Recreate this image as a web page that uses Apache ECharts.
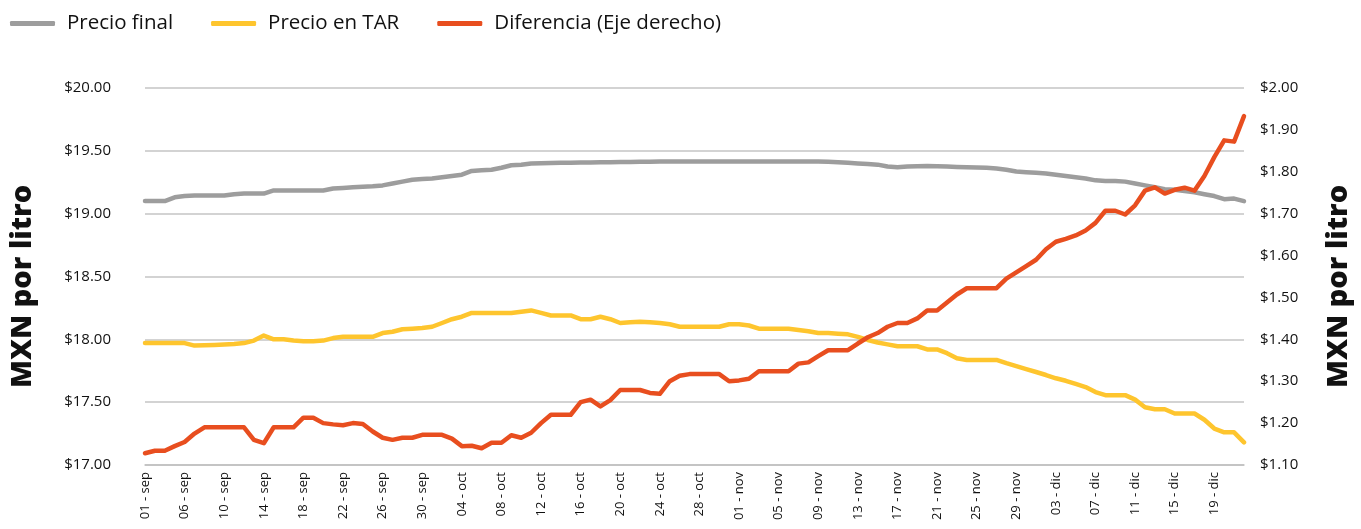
<!DOCTYPE html>
<html>
<head>
<meta charset="utf-8">
<script src="https://cdn.jsdelivr.net/npm/echarts@6/dist/echarts.min.js"></script>
<style>
html,body{margin:0;padding:0;background:#fff;}
#chart{width:1361px;height:529px;}
</style>
</head>
<body>
<div id="chart"></div>
<script>
const categories = [
"01 - sep","03 - sep","04 - sep","05 - sep","06 - sep","07 - sep","08 - sep","09 - sep","10 - sep","11 - sep","12 - sep","13 - sep","14 - sep","15 - sep","16 - sep","17 - sep","18 - sep","19 - sep","20 - sep","21 - sep","22 - sep","23 - sep","24 - sep","25 - sep","26 - sep","27 - sep","28 - sep","29 - sep","30 - sep",
"01 - oct","02 - oct","03 - oct","04 - oct","05 - oct","06 - oct","07 - oct","08 - oct","09 - oct","10 - oct","11 - oct","12 - oct","13 - oct","14 - oct","15 - oct","16 - oct","17 - oct","18 - oct","19 - oct","20 - oct","21 - oct","22 - oct","23 - oct","24 - oct","25 - oct","26 - oct","27 - oct","28 - oct","29 - oct","30 - oct","31 - oct",
"01 - nov","02 - nov","03 - nov","04 - nov","05 - nov","06 - nov","07 - nov","08 - nov","09 - nov","10 - nov","11 - nov","12 - nov","13 - nov","14 - nov","15 - nov","16 - nov","17 - nov","18 - nov","19 - nov","20 - nov","21 - nov","22 - nov","23 - nov","24 - nov","25 - nov","26 - nov","27 - nov","28 - nov","29 - nov","30 - nov",
"01 - dic","02 - dic","03 - dic","04 - dic","05 - dic","06 - dic","07 - dic","08 - dic","09 - dic","10 - dic","11 - dic","12 - dic","13 - dic","14 - dic","15 - dic","16 - dic","17 - dic","18 - dic","19 - dic","20 - dic","21 - dic","22 - dic"
];

const precioFinal = [
19.10,19.10,19.10,19.13,19.14,19.145,19.145,19.145,19.145,19.155,
19.16,19.16,19.16,19.185,19.185,19.185,19.185,19.185,19.185,19.20,
19.205,19.21,19.215,19.218,19.225,19.24,19.255,19.27,19.275,19.28,
19.29,19.30,19.31,19.34,19.345,19.35,19.365,19.385,19.39,19.40,
19.402,19.404,19.405,19.406,19.407,19.408,19.409,19.41,19.411,19.412,
19.413,19.414,19.415,19.415,19.415,19.415,19.415,19.415,19.415,19.415,
19.415,19.415,19.415,19.415,19.415,19.415,19.415,19.415,19.415,19.413,
19.41,19.405,19.40,19.395,19.39,19.375,19.37,19.375,19.378,19.38,
19.378,19.375,19.372,19.37,19.368,19.365,19.36,19.35,19.335,19.33,
19.325,19.32,19.31,19.30,19.29,19.28,19.265,19.26,19.26,19.255,
19.24,19.225,19.21,19.195,19.19,19.18,19.17,19.155,19.14,19.115,
19.12,19.10
];

const precioTAR = [
17.97,17.97,17.97,17.97,17.97,17.95,17.952,17.955,17.958,17.962,
17.97,17.99,18.03,18.00,18.00,17.99,17.985,17.985,17.99,18.01,
18.02,18.02,18.02,18.02,18.05,18.06,18.08,18.085,18.09,18.10,
18.13,18.16,18.18,18.21,18.21,18.21,18.21,18.21,18.22,18.23,
18.21,18.19,18.19,18.19,18.16,18.16,18.18,18.16,18.13,18.135,
18.14,18.135,18.13,18.12,18.10,18.10,18.10,18.10,18.10,18.12,
18.12,18.11,18.085,18.085,18.085,18.085,18.075,18.065,18.05,18.05,
18.045,18.04,18.02,17.995,17.975,17.96,17.945,17.945,17.945,17.92,
17.92,17.89,17.85,17.836,17.836,17.836,17.836,17.81,17.787,17.763,
17.74,17.716,17.69,17.67,17.645,17.62,17.58,17.556,17.556,17.556,
17.52,17.46,17.444,17.444,17.41,17.41,17.41,17.36,17.29,17.26,
17.26,17.18
];

const diferencia = [
1.128,1.134,1.134,1.145,1.155,1.175,1.19,1.19,1.19,1.19,
1.19,1.16,1.152,1.19,1.19,1.19,1.213,1.213,1.20,1.197,
1.195,1.20,1.198,1.18,1.165,1.16,1.165,1.165,1.172,1.172,
1.172,1.163,1.145,1.146,1.14,1.153,1.153,1.171,1.165,1.177,
1.20,1.22,1.22,1.22,1.25,1.256,1.24,1.255,1.279,1.279,
1.279,1.272,1.27,1.30,1.313,1.317,1.317,1.317,1.317,1.30,
1.302,1.306,1.324,1.324,1.324,1.324,1.342,1.345,1.36,1.374,
1.374,1.374,1.39,1.405,1.415,1.43,1.439,1.439,1.45,1.469,
1.469,1.488,1.507,1.522,1.522,1.522,1.522,1.545,1.56,1.575,
1.59,1.615,1.633,1.64,1.648,1.66,1.678,1.707,1.707,1.698,
1.72,1.755,1.763,1.748,1.757,1.762,1.755,1.79,1.835,1.875,
1.872,1.933
];

const leftTicks = {min: 17.0, max: 20.0, interval: 0.5};
const rightTicks = {min: 1.1, max: 2.0, interval: 0.1};
const seriesNames = ["Precio final", "Precio en TAR", "Diferencia (Eje derecho)"];
const axisTitle = "MXN por litro";

const FONT = "'Open Sans', 'DejaVu Sans', sans-serif";
const chart = echarts.init(document.getElementById('chart'), null, {renderer: 'canvas'});

chart.setOption({
  animation: false,
  backgroundColor: '#ffffff',
  color: ['#9d9d9d', '#fec52e', '#e84e1f'],
  legend: {
    left: 5, top: 8,
    itemWidth: 45, itemHeight: 5,
    itemGap: 38,
    icon: 'roundRect',
    textStyle: {fontFamily: FONT, fontSize: 20.5, color: '#111', padding: [0,0,0,7]},
    data: seriesNames
  },
  grid: {left: 145, right: 114, top: 88, bottom: 64},
  xAxis: {
    type: 'category',
    data: categories,
    boundaryGap: false,
    axisLine: {show: true, lineStyle: {color: '#c0c0c0', width: 1.5}},
    axisTick: {show: false},
    axisLabel: {
      interval: 3, rotate: 90, margin: 7,
      fontFamily: FONT, fontSize: 13, color: '#111'
    },
    splitLine: {show: false}
  },
  yAxis: [
    {
      type: 'value',
      min: leftTicks.min, max: leftTicks.max, interval: leftTicks.interval,
      name: axisTitle, nameLocation: 'middle', nameGap: 108,
      nameTextStyle: {fontFamily: FONT, fontSize: 29, fontWeight: 800, color: '#111', padding: [0,20,0,0]},
      axisLine: {show: false}, axisTick: {show: false},
      axisLabel: {margin: 34, fontFamily: FONT, fontSize: 15, color: '#111',
        formatter: v => '$' + v.toFixed(2)},
      splitLine: {lineStyle: {color: '#c4c4c4', width: 1.5}}
    },
    {
      type: 'value',
      min: rightTicks.min, max: rightTicks.max, interval: rightTicks.interval,
      name: axisTitle, nameLocation: 'middle', nameGap: 80,
      nameTextStyle: {fontFamily: FONT, fontSize: 29, fontWeight: 800, color: '#111', padding: [0,20,0,0]},
      axisLine: {show: false}, axisTick: {show: false},
      axisLabel: {margin: 16, fontFamily: FONT, fontSize: 15, color: '#111',
        formatter: v => '$' + v.toFixed(2)},
      splitLine: {show: false}
    }
  ],
  series: [
    {name: seriesNames[0], type: 'line', yAxisIndex: 0, data: precioFinal,
      showSymbol: false, symbol: 'none', lineStyle: {width: 4.5, color: '#9d9d9d', cap: 'round', join: 'round'}},
    {name: seriesNames[1], type: 'line', yAxisIndex: 0, data: precioTAR,
      showSymbol: false, symbol: 'none', lineStyle: {width: 4.5, color: '#fec52e', cap: 'round', join: 'round'}},
    {name: seriesNames[2], type: 'line', yAxisIndex: 1, data: diferencia,
      showSymbol: false, symbol: 'none', lineStyle: {width: 4.5, color: '#e84e1f', cap: 'round', join: 'round'}}
  ]
});
</script>
</body>
</html>
